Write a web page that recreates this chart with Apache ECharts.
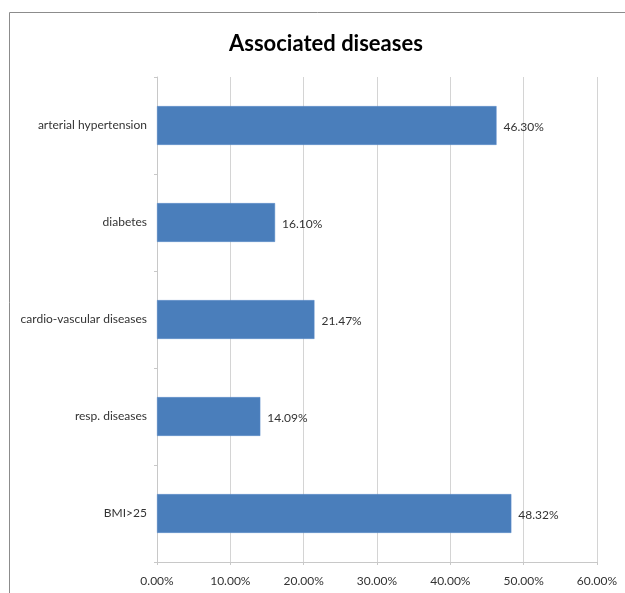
<!DOCTYPE html>
<html>
<head>
<meta charset="utf-8">
<script src="https://cdn.jsdelivr.net/npm/echarts@6/dist/echarts.min.js"></script>
<style>
  html, body { margin: 0; padding: 0; background: #fff; }
  #chart { width: 625px; height: 593px; }
</style>
</head>
<body>
<div id="chart"></div>
<script>
// Associated diseases — share of patients (%)
const categories = ['arterial hypertension', 'diabetes', 'cardio-vascular diseases', 'resp. diseases', 'BMI>25'];
const shares = [46.30, 16.10, 21.47, 14.09, 48.32];
const axisTicks = [0, 10, 20, 30, 40, 50, 60];

const FONT = 'Lato, "Open Sans", sans-serif';

const chart = echarts.init(document.getElementById('chart'), null, { renderer: 'canvas' });

chart.setOption({
  backgroundColor: '#ffffff',
  animation: false,
  title: {
    text: 'Associated diseases',
    left: 224,
    top: 28,
    textStyle: { fontFamily: FONT, fontSize: 22, fontWeight: 'bold', color: '#000' }
  },
  // chart-area frame: top and left edges
  graphic: [{
    type: 'polyline',
    shape: { points: [[9.5, 593], [9.5, 12.5], [625, 12.5]] },
    style: { fill: null, stroke: '#8c8c8c', lineWidth: 1 },
    silent: true,
    z: -1
  }],
  grid: { left: 157, right: 28, top: 77, bottom: 31, containLabel: false },
  xAxis: {
    type: 'value',
    min: axisTicks[0],
    max: axisTicks[axisTicks.length - 1],
    interval: 10,
    axisLine: { show: true, lineStyle: { color: '#c8c8c8', width: 1 } },
    axisTick: { show: true, length: 3, lineStyle: { color: '#c8c8c8' } },
    splitLine: { show: true, lineStyle: { color: '#d4d4d4', width: 1 } },
    axisLabel: {
      fontFamily: FONT, fontSize: 12, color: '#333', margin: 13,
      formatter: v => v.toFixed(2) + '%'
    }
  },
  yAxis: {
    type: 'category',
    data: categories,
    inverse: true,
    axisLine: { show: true, lineStyle: { color: '#c8c8c8', width: 1 } },
    axisTick: { show: true, length: 3, lineStyle: { color: '#c8c8c8' } },
    axisLabel: { fontFamily: FONT, fontSize: 12, color: '#333', margin: 10, padding: [3, 0, 0, 0] }
  },
  series: [{
    type: 'bar',
    data: shares,
    barWidth: '40%',
    itemStyle: { color: '#4a7ebb', borderColor: '#5b8ccb', borderWidth: 0.5 },
    label: {
      show: true,
      position: 'right',
      distance: 7,
      offset: [0, 2],
      fontFamily: FONT, fontSize: 12, color: '#333',
      formatter: p => p.value.toFixed(2) + '%'
    }
  }]
});
</script>
</body>
</html>
